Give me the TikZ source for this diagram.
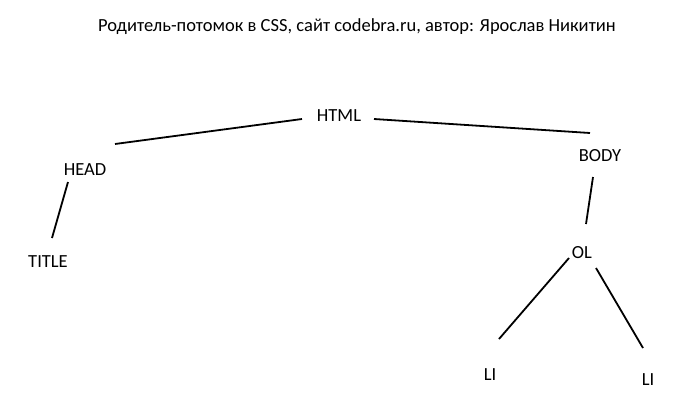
\documentclass[tikz,border=0pt]{standalone}
\usepackage{fontspec}
\setmainfont{Carlito}
\tikzset{
  tag/.style = {inner sep = 0pt, font = \fontsize{18.5}{22}\selectfont},
  edge/.style = {line width = 1.8pt}
}

\begin{document}
\begin{tikzpicture}[x = 1pt, y = -1pt]
  \useasboundingbox (0,0) rectangle (700,405);
  \node[tag, anchor = base] (caption) at (357,31)
    {Родитель-потомок в CSS, сайт codebra.ru, автор: Ярослав Никитин};
  % tree of tags
  \node[tag] (html) at (339,116) {HTML};
  \node[tag] (head) at (85,170) {HEAD};
  \node[tag] (title) at (48,262) {TITLE};
  \node[tag] (body) at (600,156) {BODY};
  \node[tag] (ol) at (582,253) {OL};
  \node[tag] (lia) at (490,375) {LI};
  \node[tag] (lib) at (648,380) {LI};
  % branches, they stop short of the tags
  \draw[edge] ([shift = {(-37,3)}]html.center) -- ([shift = {(30,-26)}]head.center);
  \draw[edge] ([shift = {(35,3)}]html.center) -- ([shift = {(-10,-23)}]body.center);
  \draw[edge] ([shift = {(-17,12)}]head.center) -- ([shift = {(4,-24)}]title.center);
  \draw[edge] ([shift = {(-7,21)}]body.center) -- ([shift = {(4,-29)}]ol.center);
  \draw[edge] ([shift = {(-13,5)}]ol.center) -- ([shift = {(9,-36)}]lia.center);
  \draw[edge] ([shift = {(14,15)}]ol.center) -- ([shift = {(-5,-32)}]lib.center);
\end{tikzpicture}
\end{document}
